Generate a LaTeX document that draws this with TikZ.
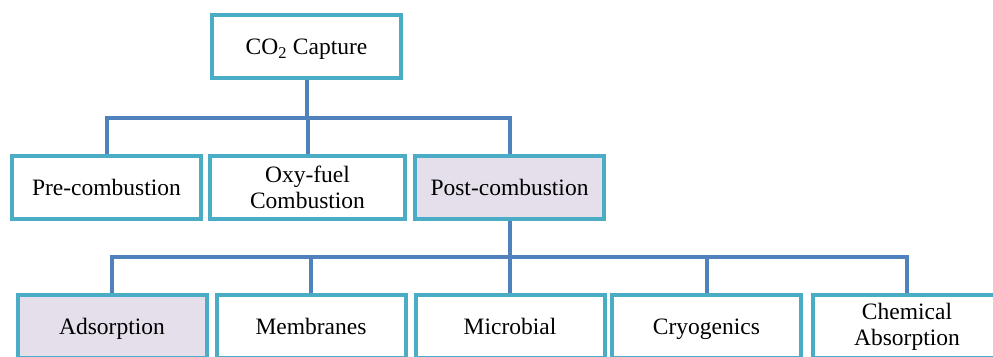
\documentclass[tikz,border=0pt]{standalone}
\usepackage{fontspec}
\setmainfont{Liberation Serif}
\definecolor{boxline}{HTML}{4BACC6}
\definecolor{conn}{HTML}{4F81BD}
\definecolor{hilite}{HTML}{E5DFEC}
\begin{document}
\begin{tikzpicture}[x=1pt,y=-1pt,
  box/.style={draw=boxline,line width=4pt,fill=white,minimum width=189pt,minimum height=63pt,
    inner sep=0pt,align=center,font=\fontsize{23.5}{26}\selectfont},
  oneline/.style={text height=19pt,text depth=3pt},
  hl/.style={fill=hilite},
  link/.style={draw=conn,line width=4pt}]
\clip (0,0) rectangle (993,356);
\fill[white] (0,0) rectangle (993,356);
\coordinate (j1) at (306.5,118);
\coordinate (j2) at (509.5,257);
\node[box,oneline] (top) at (306.5,46.5) {CO\textsubscript{2} Capture};
\node[box,oneline] (pre) at (106.5,187) {Pre-combustion};
\node[box,minimum width=195pt] (oxy) at (307.5,187) {Oxy-fuel\\Combustion};
\node[box,hl,oneline] (post) at (509.5,187) {Post-combustion};
\node[box,hl,oneline] (ads) at (112,326.5) {Adsorption};
\node[box,oneline] (mem) at (311,326.5) {Membranes};
\node[box,oneline] (mic) at (510,326.5) {Microbial};
\node[box,oneline] (cry) at (706.5,326.5) {Cryogenics};
\node[box] (che) at (907,326.5) {Chemical\\Absorption};
\draw[link] (top.south) -- (j1);
\draw[link] (j1) -| (pre.north);
\draw[link] (j1) -| (oxy.north);
\draw[link] (j1) -| (post.north);
\draw[link] (post.south) -- (j2);
\draw[link] (j2) -| (ads.north);
\draw[link] (j2) -| (mem.north);
\draw[link] (j2) -| (mic.north);
\draw[link] (j2) -| (cry.north);
\draw[link] (j2) -| (che.north);
\end{tikzpicture}
\end{document}
